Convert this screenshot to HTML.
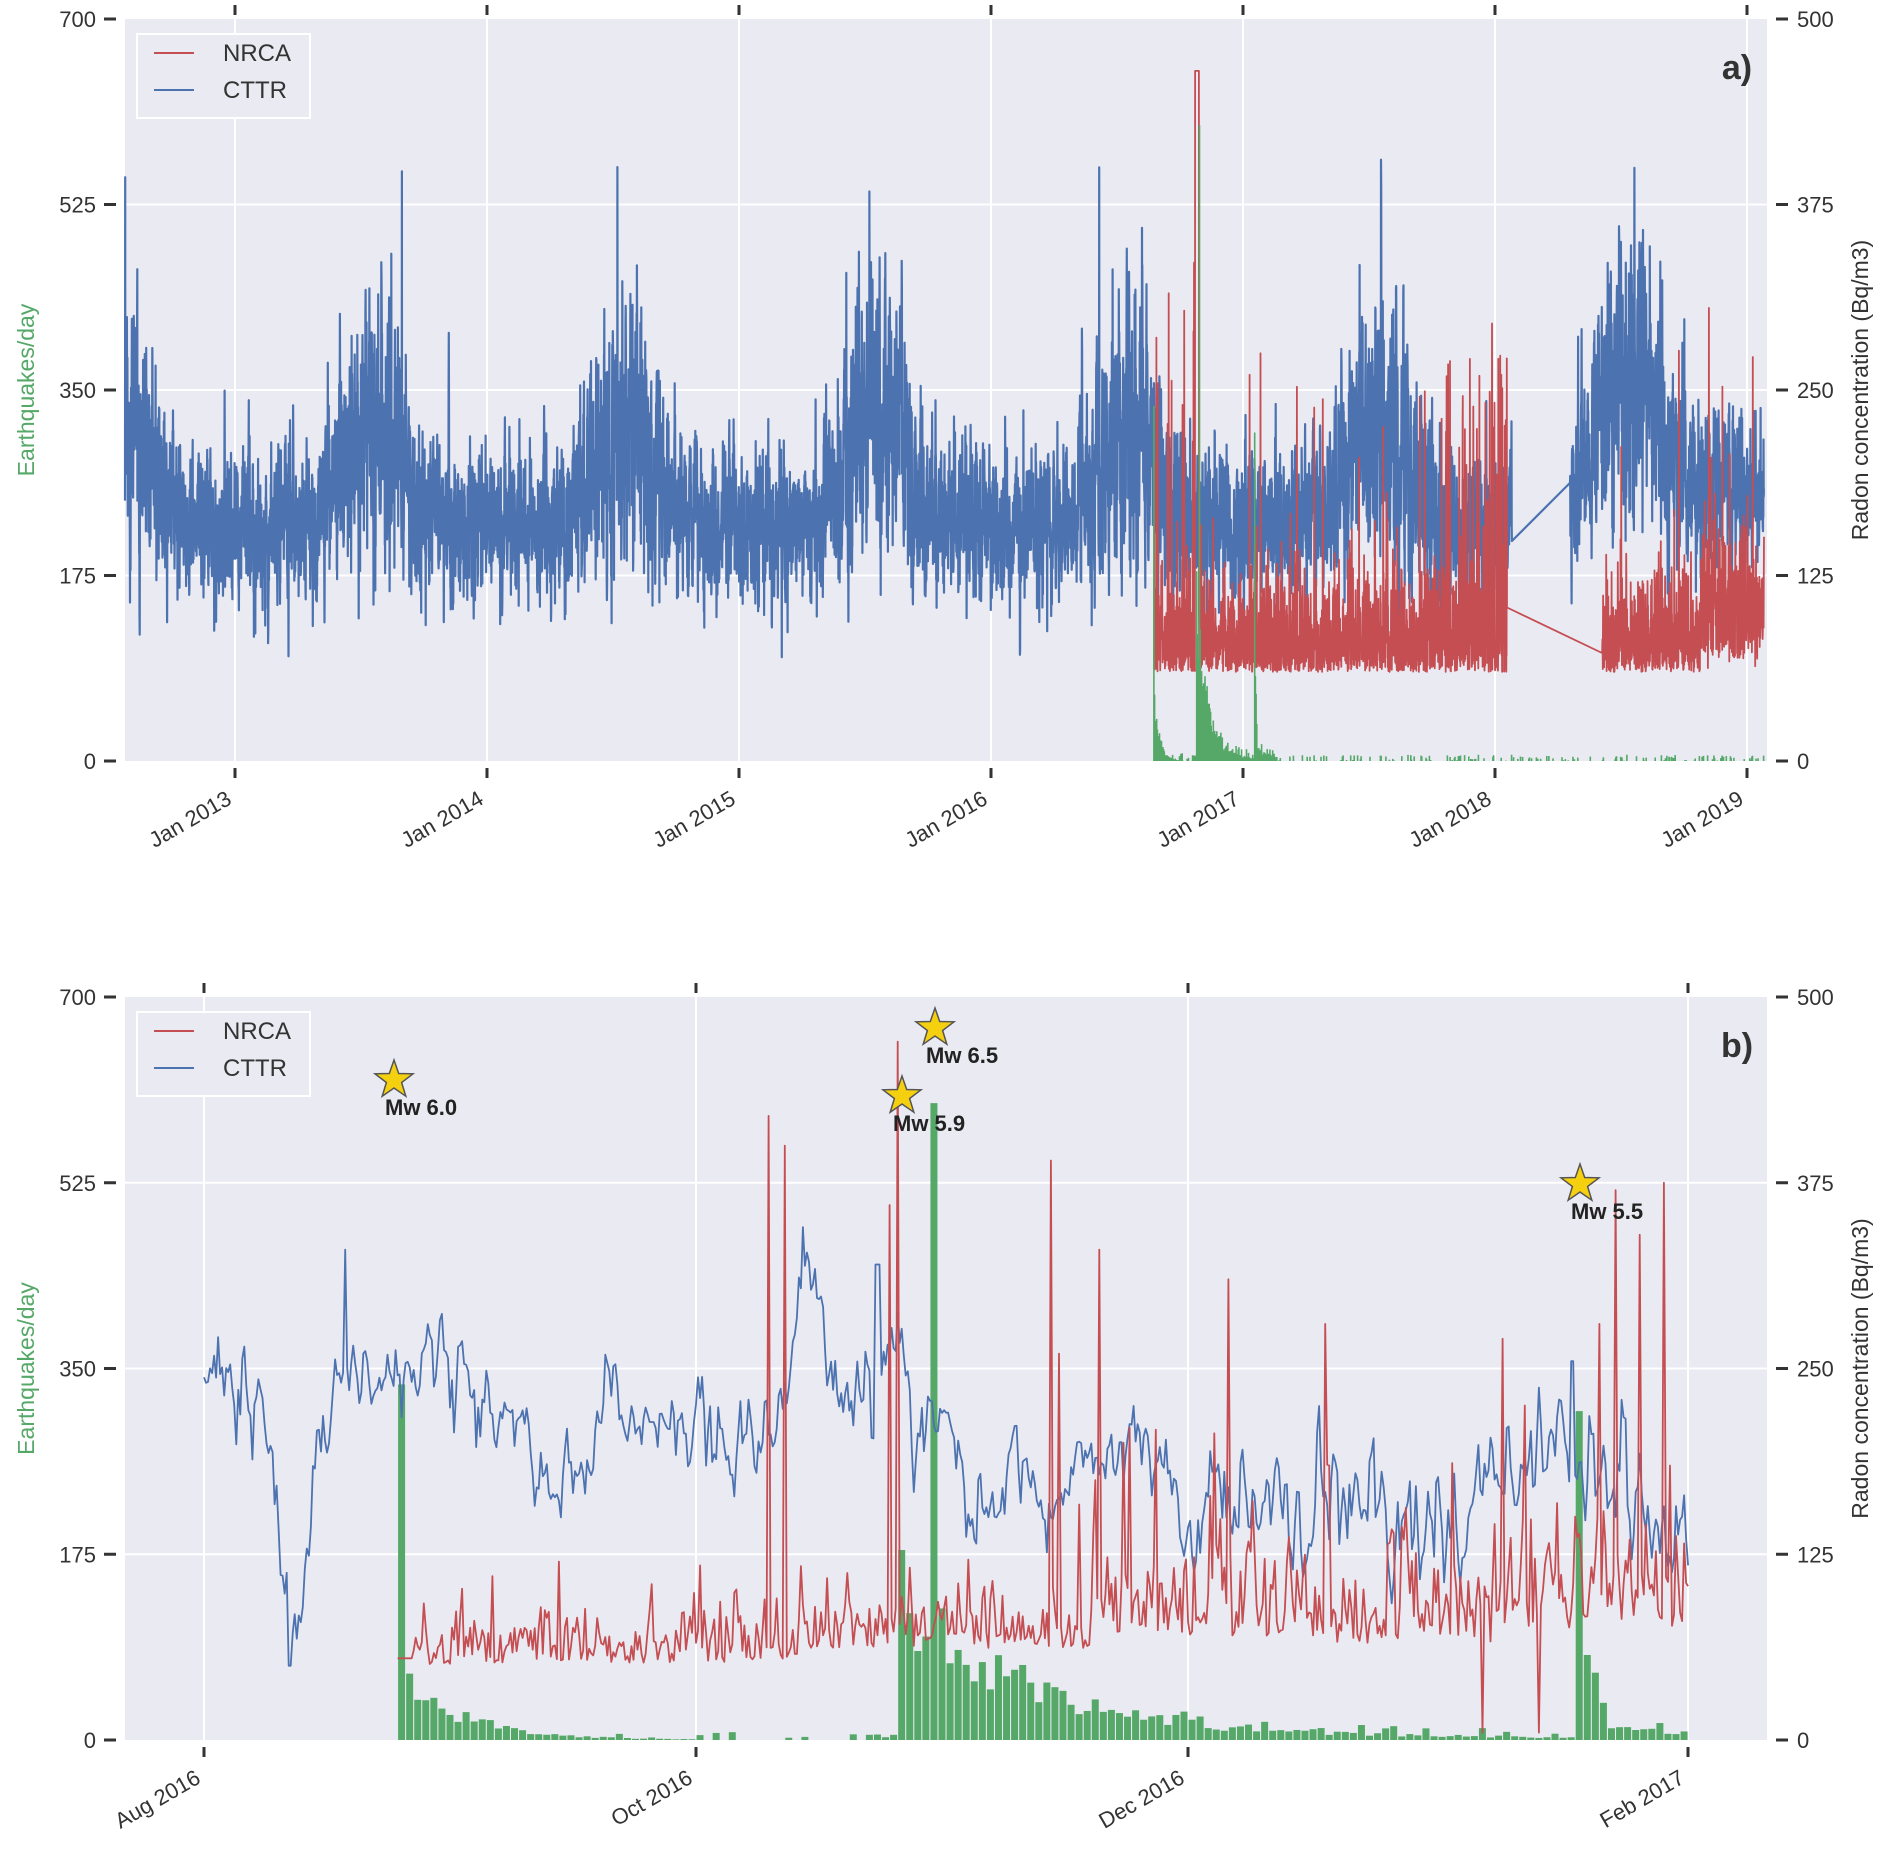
<!DOCTYPE html>
<html><head><meta charset="utf-8"><style>
html,body{margin:0;padding:0;background:#fff;}
svg{display:block;font-family:"Liberation Sans",sans-serif;}
</style></head><body>
<svg id="s" width="1882" height="1851" xmlns="http://www.w3.org/2000/svg">
<rect x="125" y="19" width="1642" height="742" fill="#eaeaf2"/>
<rect x="125" y="997" width="1642" height="743" fill="#eaeaf2"/>
<g id="grid" stroke="#fff" stroke-width="2"></g>
<g id="data"></g>
<g id="ax" fill="#333" font-size="22"></g>
</svg>
<script>
var NS="http://www.w3.org/2000/svg";
function el(p,t,a,txt){var e=document.createElementNS(NS,t);for(var k in a)e.setAttribute(k,a[k]);if(txt!==undefined)e.textContent=txt;document.getElementById(p).appendChild(e);return e;}
var seed=12345;function rnd(){seed|=0;seed=seed+0x6D2B79F5|0;var t=Math.imul(seed^seed>>>15,1|seed);t=t+Math.imul(t^t>>>7,61|t)^t;return((t^t>>>14)>>>0)/4294967296;}
function gauss(){return Math.sqrt(-2*Math.log(rnd()+1e-9))*Math.cos(2*Math.PI*rnd());}
var BLUE="#4c72b0",RED="#c44e52",GREEN="#55a868";
var P=[{t:19,b:761},{t:997,b:1740}];
P.forEach(function(p,i){
 for(var k=0;k<=4;k++){var y=p.b-(p.b-p.t)*k/4;
  if(k>0&&k<4)el("grid","line",{x1:125,x2:1767,y1:y,y2:y});
  el("ax","text",{x:96,y:y+8,"text-anchor":"end"},String(175*k));
  el("ax","line",{x1:104,x2:116,y1:y,y2:y,stroke:"#333","stroke-width":3});
  el("ax","line",{x1:1776,x2:1788,y1:y,y2:y,stroke:"#333","stroke-width":3});
  el("ax","text",{x:1797,y:y+8},String(125*k));
 }
 el("ax","text",{transform:"translate(34,"+((p.t+p.b)/2)+") rotate(-90)","text-anchor":"middle",fill:GREEN,"font-size":23},"Earthquakes/day");
 el("ax","text",{transform:"translate(1868,"+((p.t+p.b)/2)+") rotate(-90)","text-anchor":"middle","font-size":23},"Radon concentration (Bq/m3)");
 el("ax","rect",{x:137,y:p.t+15,width:173,height:84,fill:"#eaeaf2",stroke:"#fff","stroke-width":2});
 el("ax","line",{x1:154,x2:194,y1:p.t+34,y2:p.t+34,stroke:RED,"stroke-width":2});
 el("ax","line",{x1:154,x2:194,y1:p.t+71,y2:p.t+71,stroke:BLUE,"stroke-width":2});
 el("ax","text",{x:223,y:p.t+42,"font-size":24},"NRCA");
 el("ax","text",{x:223,y:p.t+79,"font-size":24},"CTTR");
 el("ax","text",{x:1737,y:p.t+60,"font-size":34,"font-weight":"bold","text-anchor":"middle"},i?"b)":"a)");
});
var tA=[["Jan 2013",235],["Jan 2014",487],["Jan 2015",739],["Jan 2016",991],["Jan 2017",1243],["Jan 2018",1495],["Jan 2019",1747]];
var tB=[["Aug 2016",204],["Oct 2016",696],["Dec 2016",1188],["Feb 2017",1688]];
function ticks(list,p){list.forEach(function(t){var x=t[1];
 el("grid","line",{x1:x,x2:x,y1:p.t,y2:p.b});
 el("ax","line",{x1:x,x2:x,y1:p.t-14,y2:p.t-4,stroke:"#333","stroke-width":3});
 el("ax","line",{x1:x,x2:x,y1:p.b+7,y2:p.b+17,stroke:"#333","stroke-width":3});
 el("ax","text",{transform:"translate("+(x-2)+","+(p.b+42)+") rotate(-30)","text-anchor":"end"},t[0]);});}
ticks(tA,P[0]);ticks(tB,P[1]);
function path(pts,col,w){var d="";pts.forEach(function(q,i){d+=(i?"L":"M")+q[0].toFixed(1)+" "+q[1].toFixed(1);});el("data","path",{d:d,fill:"none",stroke:col,"stroke-width":w||1.6,"stroke-linejoin":"round"});}
var eq=[];for(var d=0;d<920;d++){var v=0;
 if(d>=24){var a=d-24;v+=a==0?335:55*Math.exp(-a/8);}
 if(d>=86){var a=d-86;v+=a==0?140:(a<4?110-a*10:0);}
 if(d>=90){var a=d-90;v+=a==0?600:100*Math.exp(-a/14)+8*Math.exp(-a/60);}
 if(d>=170){var a=d-170;v+=a==0?305:(a<4?100/(a):0)+10*Math.exp(-a/20);}
 if(d>24&&d!=90&&d!=170)v*=0.7+0.6*rnd(); if(d>30&&rnd()<0.3)v+=rnd()*8; if(d>200)v=rnd()<0.2?rnd()*6:0;
 eq.push(v);}
var dayA=365/252; function xA(days){return 125+days/dayA;}
var yAr=function(v){return 761-v*742/500;};
var d2016a=(1243-125)*dayA-153;
var pts=[],ar=0,N=(1764-125)*dayA;
for(var t=0;t<N;t+=0.25){var doy=(t+207)%365;var s=Math.pow(Math.max(0,Math.sin(Math.PI*(doy-100)/200)),2);
 var x=xA(t); if(x>1512&&x<1570)continue;
 ar=0.5*ar+gauss()*22; var v=160+70*s+ar*(1+0.8*s)+(rnd()<0.008?rnd()*150*(0.4+s):0);
 if(x>1570)v+=25;
 pts.push([x,yAr(Math.max(30,v))]);}
path(pts,BLUE,2.2);
pts=[];ar=0;for(var t=(1154-125)*dayA;t<N;t+=0.25){var x=xA(t);if(x>1507&&x<1602)continue;
 ar=0.4*ar+gauss()*14;var v=60+Math.abs(ar)*2+(rnd()<0.01?rnd()*200:0);if(x<1200&&rnd()<0.05)v+=rnd()*250;
 if(Math.abs(x-1197)<2)v=465; if(x>1440&&x<1507&&rnd()<0.06)v+=160;
 if(x>1700)v+=rnd()*40;
 pts.push([x,yAr(Math.max(42,v))]);}
path(pts,RED,1.8);
var g="";for(var d=0;d<eq.length;d++){var x=xA(d2016a+d);if(x>1765)break;var h=eq[d]*742/700;if(h<0.3)continue;g+="M"+x.toFixed(1)+" 761V"+(761-h).toFixed(1);}
el("data","path",{d:g,stroke:GREEN,"stroke-width":1.6,fill:"none"});
var pxd=8.066;function xB(d){return 204+d*pxd;}
var yBr=function(v){return 1740-v*743/500;}, yBe=function(v){return 1740-v*743/700;};
for(var d=0;d<184;d++){if(eq[d]<0.5)continue;el("data","rect",{x:xB(d)+0.5,y:yBe(eq[d]),width:7,height:eq[d]*743/700,fill:GREEN});}
function meanBlue(d){var k=[[0,250],[8,200],[11,70],[14,180],[18,270],[22,220],[26,250],[32,240],[38,220],[44,160],[50,240],[55,200],[62,200],[68,190],[72,230],[75,320],[78,220],[84,230],[86,300],[88,190],[91,220],[95,160],[100,165],[110,170],[115,190],[123,160],[140,160],[155,150],[163,175],[170,180],[176,170],[184,140]];
 for(var i=1;i<k.length;i++)if(d<=k[i][0]){var a=k[i-1],b=k[i];return a[1]+(b[1]-a[1])*(d-a[0])/(b[0]-a[0]);}return 140;}
pts=[];ar=0;for(var d=0;d<=184;d+=0.25){ar=0.6*ar+gauss()*12;var v=meanBlue(d)+ar*(d>120?1.5:1.2);if(Math.abs(d-10.7)<0.3)v=50;if(Math.abs(d-17.5)<0.2)v=330;if(Math.abs(d-83.5)<0.3)v=320;if(Math.abs(d-169.7)<0.2)v=255;pts.push([xB(d),yBr(v)]);}
path(pts,BLUE,1.8);
function meanRed(d){return d<35?42+d*0.3:d<75?52:d<110?62:d<140?70:d<160?65:75;}
var spikes={44:120,70:420,72:400,85:360,86:470,105:390,106:260,111:330,114:200,127:310,139:280,161:270,175:370,178:340,181:375,173:280};
pts=[];ar=0;for(var d=24;d<=184;d+=0.25){ar=0.5*ar+gauss()*14;var v=meanRed(d)+Math.abs(ar)*(d>110?2.2:1.3);
 var di=Math.round(d);if(spikes[di]&&Math.abs(d-di)<0.13)v=spikes[di];
 if(d>100&&rnd()<0.03)v+=rnd()*120; if(d<26)v=55;
 if(Math.abs(d-158.5)<0.13||Math.abs(d-165.5)<0.13)v=5;
 pts.push([xB(d),yBr(v)]);}
path(pts,RED,1.8);
function star(cx,cy,r,lab){var d="";for(var i=0;i<10;i++){var rr=i%2?r*0.4:r,a=-Math.PI/2+i*Math.PI/5;d+=(i?"L":"M")+(cx+rr*Math.cos(a)).toFixed(1)+" "+(cy+rr*Math.sin(a)).toFixed(1);}
 el("ax","path",{d:d+"Z",fill:"#f5d00f",stroke:"#555","stroke-width":1.5});
 el("ax","text",{x:cx-9,y:cy+35,"font-size":22,"font-weight":"bold",fill:"#222"},lab);}
star(394,1080,20,"Mw 6.0");star(935,1028,20,"Mw 6.5");star(902,1096,20,"Mw 5.9");star(1580,1184,20,"Mw 5.5");
</script>
</body></html>
